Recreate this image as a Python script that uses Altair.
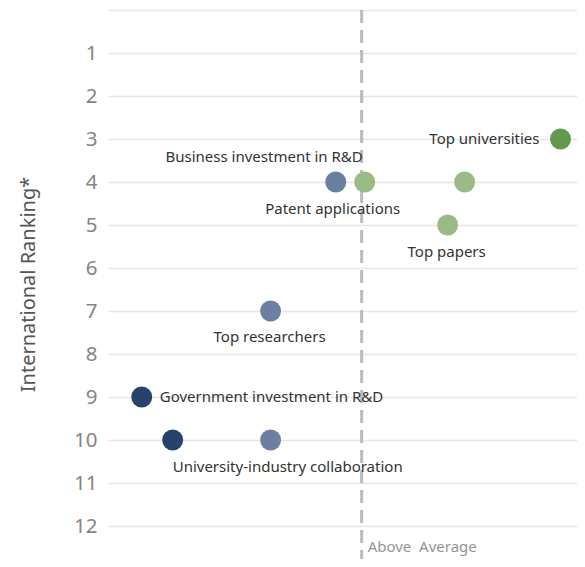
import altair as alt
import pandas as pd

names = ["Top universities", "Business investment in R&D", "Patent applications", "",
         "Top papers", "Top researchers", "Government investment in R&D",
         "University-industry collaboration", ""]
ranks = [3, 4, 4, 4, 5, 7, 9, 10, 10]
scores = [78.4, -10.2, 1.2, 40.6, 33.9, -35.9, -86.7, -74.5, -35.9]
groups = ["Well above", "Below", "Above", "Above", "Above", "Below", "Well below", "Well below", "Below"]

group_domain = ["Well below", "Below", "Above", "Well above"]
group_colors = ["#26446b", "#6b80a0", "#9aba86", "#62994a"]

df = pd.DataFrame({"name": names, "rank": ranks, "score": scores, "group": groups})
avg_df = pd.DataFrame({"score": [0.0], "label": ["Above\u00a0\u00a0Average"]})

FONT = "Noto Sans"

x_scale = alt.Scale(domain=[-100, 84.9], nice=False, zero=False)
y_scale = alt.Scale(domain=[0, 12.767], reverse=True, nice=False, zero=False)

x_enc = alt.X("score:Q", scale=x_scale, axis=None)
y_enc = alt.Y("rank:Q", scale=y_scale, title="International Ranking*",
              axis=alt.Axis(values=list(range(0, 13)),
                            labelExpr="datum.value >= 1 && datum.value <= 12 ? datum.value : ''",
                            grid=True, gridColor="#e6e6e6", gridWidth=1.5,
                            ticks=False, domain=False,
                            labelFont=FONT, labelFontSize=20.5, labelColor="#858585",
                            labelPadding=11,
                            titleFont=FONT, titleFontSize=20, titleFontWeight="normal",
                            titleColor="#555555", titleX=-70, titleY=274))

avg_rule = alt.Chart(avg_df).mark_rule(color="#bbbbbb", strokeWidth=3, strokeDash=[13, 7]).encode(
    x=alt.X("score:Q", scale=x_scale, axis=None)
)
avg_text = alt.Chart(avg_df).mark_text(align="left", baseline="middle", dx=6, font=FONT,
                                       fontSize=15, color="#959595").encode(
    x=alt.X("score:Q", scale=x_scale, axis=None),
    y=alt.value(537),
    text="label:N",
)

points = alt.Chart(df).mark_circle(size=440, opacity=1).encode(
    x=x_enc,
    y=y_enc,
    color=alt.Color("group:N", scale=alt.Scale(domain=group_domain, range=group_colors), legend=None),
)

label_styles = [
    ("Top universities", "right", -21, 0),
    ("Business investment in R&D", "right", 27, -25),
    ("Patent applications", "center", -32, 27),
    ("Top papers", "center", -1, 27),
    ("Top researchers", "center", -1, 26),
    ("Government investment in R&D", "left", 18, 0),
    ("University-industry collaboration", "left", 0, 27),
]

label_layers = []
for nm, al, dx, dy in label_styles:
    label_layers.append(
        alt.Chart(df).transform_filter(alt.datum.name == nm).mark_text(
            align=al, baseline="middle", dx=dx, dy=dy, font=FONT, fontSize=15, color="#333333"
        ).encode(x=alt.X("score:Q", scale=x_scale, axis=None),
                 y=alt.Y("rank:Q", scale=y_scale), text="name:N")
    )

chart = alt.layer(avg_rule, points.encode(y=y_enc), avg_text, *label_layers).properties(
    width=469, height=549,
    autosize=alt.AutoSizeParams(type="none"),
    padding={"left": 100, "top": 2, "right": 0, "bottom": 0},
).configure_view(stroke=None)

chart.save("out.html", embed_options={"renderer": "svg", "actions": False})
